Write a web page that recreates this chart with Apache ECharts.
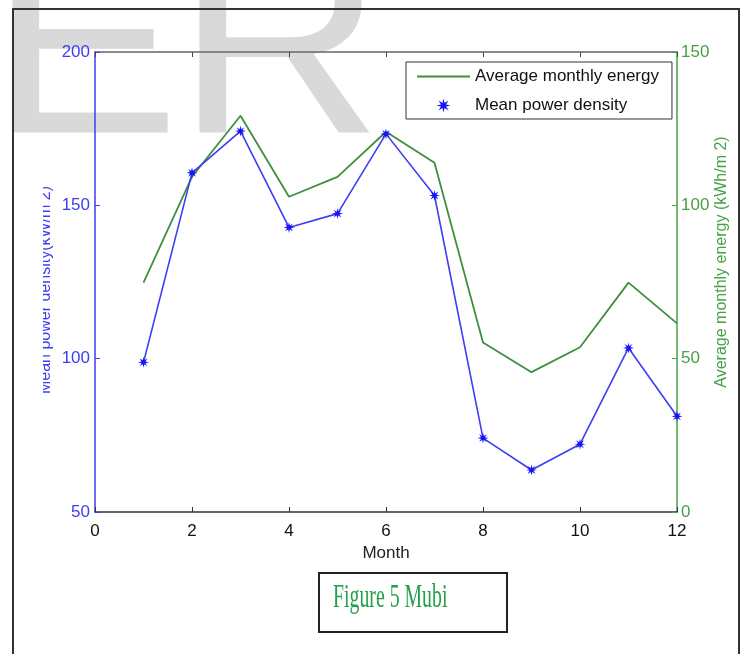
<!DOCTYPE html>
<html>
<head>
<meta charset="utf-8">
<script src="https://cdn.jsdelivr.net/npm/echarts@6/dist/echarts.min.js"></script>
<style>
  html, body { margin: 0; padding: 0; background: #ffffff; }
  #chart { width: 746px; height: 654px; }
</style>
</head>
<body>
<div id="chart"></div>
<script>
// Monthly wind resource: mean power density (left axis) and average monthly energy (right axis)
const months = [1, 2, 3, 4, 5, 6, 7, 8, 9, 10, 11, 12];
const meanPowerDensity = [98.8, 160.6, 174.2, 142.8, 147.3, 173.3, 153.2, 74.1, 63.7, 72.1, 103.5, 81.2];
const avgMonthlyEnergy = [74.8, 109.3, 129.2, 102.8, 109.3, 124.0, 113.9, 55.3, 45.6, 53.7, 74.8, 61.5];

const monthTicks = [0, 2, 4, 6, 8, 10, 12];
const powerTicks = [50, 100, 150, 200];
const energyTicks = [0, 50, 100, 150];

const FONT = 'Liberation Sans, Arial, Helvetica, sans-serif';
const BLUE = '#3d3df2';
const GREEN = '#3f8f3f';
const GREEN_TEXT = '#46a046';
const STAR = 'path://M0,-10L1.5,-3.6L7.1,-7.1L3.6,-1.5L10,0L3.6,1.5L7.1,7.1L1.5,3.6L0,10L-1.5,3.6L-7.1,7.1L-3.6,1.5L-10,0L-3.6,-1.5L-7.1,-7.1L-1.5,-3.6Z';

const chart = echarts.init(document.getElementById('chart'), null, { renderer: 'canvas' });

const xCommon = {
  type: 'value',
  min: monthTicks[0],
  max: monthTicks[monthTicks.length - 1],
  interval: monthTicks[1] - monthTicks[0],
  splitLine: { show: false }
};

chart.setOption({
  backgroundColor: '#ffffff',
  animation: false,
  grid: { left: 95, right: 69, top: 52, bottom: 142, show: false },
  legend: {
    orient: 'vertical',
    left: 406,
    top: 62,
    padding: [6, 13, 5, 11],
    itemGap: 12,
    itemWidth: 53,
    itemHeight: 14,
    borderColor: '#333333',
    borderWidth: 1,
    backgroundColor: '#ffffff',
    textStyle: { fontFamily: FONT, fontSize: 17, color: '#111111' },
    data: [
      { name: 'Average monthly energy', icon: 'path://M0,0H53V2H0Z' },
      { name: 'Mean power density', icon: STAR }
    ]
  },
  xAxis: [
    Object.assign({}, xCommon, {
      position: 'bottom',
      name: 'Month',
      nameLocation: 'middle',
      nameGap: 33,
      nameTextStyle: { fontFamily: FONT, fontSize: 17, color: '#222222' },
      axisLine: { onZero: false, lineStyle: { color: '#333333', width: 1.5 } },
      axisTick: { inside: true, length: 5, lineStyle: { color: '#333333' } },
      axisLabel: { fontFamily: FONT, fontSize: 17, color: '#111111', margin: 11 }
    }),
    Object.assign({}, xCommon, {
      position: 'top',
      axisLine: { onZero: false, lineStyle: { color: '#666666', width: 1.5 } },
      axisTick: { inside: true, length: 5, lineStyle: { color: '#444444' } },
      axisLabel: { show: false }
    })
  ],
  yAxis: [
    {
      type: 'value',
      position: 'left',
      min: powerTicks[0],
      max: powerTicks[powerTicks.length - 1],
      interval: powerTicks[1] - powerTicks[0],
      splitLine: { show: false },
      axisLine: { show: true, onZero: false, lineStyle: { color: BLUE, width: 1.5 } },
      axisTick: { show: true, inside: true, length: 5, lineStyle: { color: BLUE } },
      axisLabel: { fontFamily: FONT, fontSize: 17, color: BLUE, margin: 5 }
    },
    {
      type: 'value',
      position: 'right',
      min: energyTicks[0],
      max: energyTicks[energyTicks.length - 1],
      interval: energyTicks[1] - energyTicks[0],
      splitLine: { show: false },
      axisLine: { show: true, onZero: false, lineStyle: { color: GREEN_TEXT, width: 1.5 } },
      axisTick: { show: true, inside: true, length: 5, lineStyle: { color: GREEN_TEXT } },
      axisLabel: { fontFamily: FONT, fontSize: 17, color: GREEN_TEXT, margin: 4 }
    }
  ],
  series: [
    {
      name: 'Average monthly energy',
      type: 'line',
      xAxisIndex: 0,
      yAxisIndex: 1,
      data: months.map((m, i) => [m, avgMonthlyEnergy[i]]),
      symbol: 'none',
      lineStyle: { color: GREEN, width: 1.8 },
      itemStyle: { color: GREEN },
      z: 3
    },
    {
      name: 'Mean power density',
      type: 'line',
      xAxisIndex: 0,
      yAxisIndex: 0,
      data: months.map((m, i) => [m, meanPowerDensity[i]]),
      symbol: STAR,
      symbolSize: 11,
      lineStyle: { color: BLUE, width: 1.6 },
      itemStyle: { color: '#1515f5' },
      z: 4
    }
  ],
  graphic: [
    // faint lettering behind the figure
    {
      type: 'text', z: -10, x: -11, y: 192, scaleX: 1.08,
      style: { text: 'E', font: 'normal 265px ' + FONT, fill: '#d9d9d9', textAlign: 'left', textVerticalAlign: 'bottom' }
    },
    {
      type: 'text', z: -10, x: 176, y: 192, scaleX: 1.08,
      style: { text: 'R', font: 'normal 265px ' + FONT, fill: '#d9d9d9', textAlign: 'left', textVerticalAlign: 'bottom' }
    },
    // left axis title (partly cut by the page edge)
    {
      type: 'text', z: 5, x: 46, y: 290, rotation: Math.PI / 2,
      style: { text: 'Mean power density(kW/m 2)', font: '16px ' + FONT, fill: BLUE, textAlign: 'center', textVerticalAlign: 'middle' }
    },
    {
      type: 'rect', z: 6, shape: { x: 14, y: 140, width: 29, height: 300 },
      style: { fill: '#ffffff' }
    },
    // right axis title
    {
      type: 'text', z: 5, x: 722, y: 262, rotation: Math.PI / 2,
      style: { text: 'Average monthly energy (kWh/m 2)', font: '16px ' + FONT, fill: GREEN_TEXT, textAlign: 'center', textVerticalAlign: 'middle' }
    },
    // page frame
    {
      type: 'polyline', z: 7,
      shape: { points: [[13, 654], [13, 9], [739, 9], [739, 654]] },
      style: { stroke: '#333333', lineWidth: 2, fill: null }
    },
    // caption box
    {
      type: 'rect', z: 7, shape: { x: 319, y: 573, width: 188, height: 59 },
      style: { fill: '#ffffff', stroke: '#222222', lineWidth: 2 }
    },
    {
      type: 'text', z: 8, x: 333, y: 615, scaleX: 0.6,
      style: { text: 'Figure 5 Mubi', font: '33px Liberation Serif, Times New Roman, serif', fill: '#22a04a', textAlign: 'left', textVerticalAlign: 'bottom' }
    }
  ]
});
</script>
</body>
</html>
